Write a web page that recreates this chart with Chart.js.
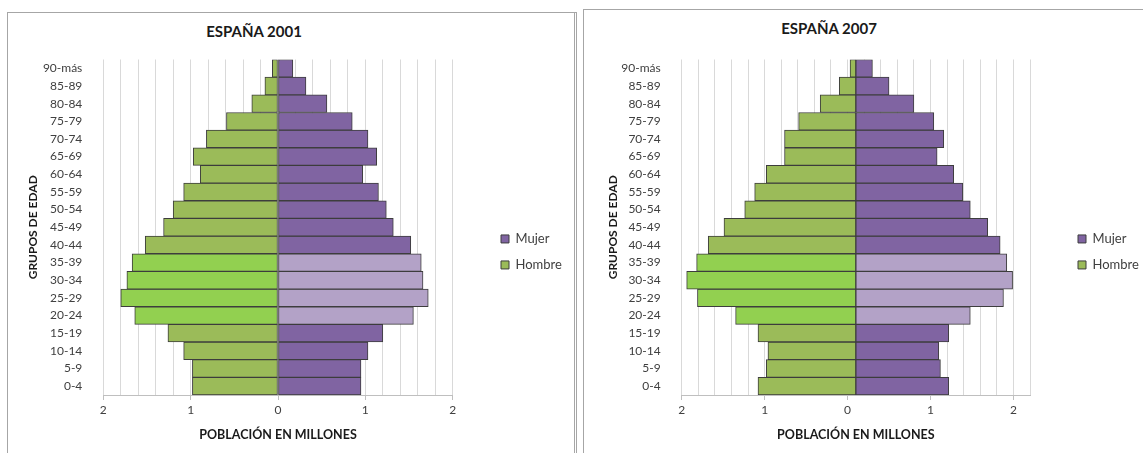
<!DOCTYPE html>
<html lang="es">
<head>
<meta charset="utf-8">
<title>Pirámides de población. España 2001 y 2007</title>
<script src="https://cdn.jsdelivr.net/npm/chart.js@4/dist/chart.umd.min.js"></script>
<style>
  html, body { margin: 0; padding: 0; background: #fff; }
  #page { position: relative; width: 1143px; height: 453px; overflow: hidden; font-family: Lato, "Open Sans", sans-serif; }
  .panel { position: absolute; box-sizing: border-box; border: 1px solid #a6a6a6; }
  #panel2001 { left: 7px; top: 12px; width: 570px; height: 470px; border-right: 3px double #a6a6a6; }
  #panel2007 { left: 583px; top: 9px; width: 600px; height: 470px; }
  .titulo { position: absolute; width: 240px; text-align: center; font-weight: bold; font-size: 15px; line-height: 18px; color: #1a1a1a; }
  #titulo2001 { left: 134px; top: 22px; }
  #titulo2007 { left: 709px; top: 19px; }
  canvas { position: absolute; top: 0; }
  #c2001 { left: 0; }
  #c2007 { left: 575px; }
</style>
</head>
<body>
<div id="page">
  <div class="panel" id="panel2001"></div>
  <div class="panel" id="panel2007"></div>
  <div class="titulo" id="titulo2001">ESPAÑA 2001</div>
  <div class="titulo" id="titulo2007">ESPAÑA 2007</div>
  <canvas id="c2001" width="575" height="453"></canvas>
  <canvas id="c2007" width="568" height="453"></canvas>
</div>
<script>
// grupos de edad, de abajo (0-4) hacia arriba (90-más)
const grupos = ["0-4", "5-9", "10-14", "15-19", "20-24", "25-29", "30-34", "35-39", "40-44",
  "45-49", "50-54", "55-59", "60-64", "65-69", "70-74", "75-79", "80-84", "85-89", "90-más"];

// grupos resaltados con color claro
const resaltados = ["20-24", "25-29", "30-34", "35-39"];

// población en millones
const hombres2001 = [0.98, 0.98, 1.08, 1.26, 1.64, 1.80, 1.73, 1.67, 1.52, 1.31, 1.20, 1.08, 0.89, 0.97, 0.82, 0.59, 0.30, 0.15, 0.065];
const mujeres2001 = [0.95, 0.95, 1.03, 1.20, 1.55, 1.72, 1.66, 1.64, 1.52, 1.32, 1.24, 1.15, 0.97, 1.13, 1.03, 0.85, 0.56, 0.32, 0.17];

const hombres2007 = [1.18, 1.08, 1.06, 1.18, 1.45, 1.91, 2.04, 1.92, 1.78, 1.59, 1.34, 1.22, 1.08, 0.86, 0.86, 0.69, 0.43, 0.20, 0.07];
const mujeres2007 = [1.12, 1.02, 1.00, 1.12, 1.38, 1.78, 1.89, 1.82, 1.74, 1.59, 1.38, 1.29, 1.18, 0.98, 1.06, 0.94, 0.70, 0.40, 0.20];

const FONT = "Lato, 'Open Sans', sans-serif";
const MUJER = "#8064a2", MUJER_CLARO = "#b3a2c7";
const HOMBRE = "#9bbb59", HOMBRE_CLARO = "#92d050";
const LEYENDA_FONT = 13, LEYENDA_CAJA = 8, LEYENDA_PAD = 13;

function colorPorGrupo(normal, claro) {
  return ctx => (ctx.dataIndex !== undefined && resaltados.includes(grupos[ctx.dataIndex])) ? claro : normal;
}

function esEntero(v) {
  return Number.isInteger(Math.round(v * 10) / 10);
}

// ancho que Chart.js da a la leyenda vertical (padding + caja + medio font + texto + 10)
function anchoLeyenda() {
  const ctx = document.createElement("canvas").getContext("2d");
  ctx.font = LEYENDA_FONT + "px " + FONT;
  const texto = Math.max(ctx.measureText("Mujer").width, ctx.measureText("Hombre").width);
  return LEYENDA_PAD + LEYENDA_CAJA + LEYENDA_FONT / 2 + texto + 10;
}

function piramide(id, cfg) {
  const canvas = document.getElementById(id);
  const padRight = canvas.width - cfg.leyendaX - anchoLeyenda();

  return new Chart(canvas, {
    type: "bar",
    data: {
      labels: grupos,
      datasets: [
        {
          label: "Mujer",
          data: cfg.mujeres.map(v => [cfg.base, cfg.base + v]),
          backgroundColor: colorPorGrupo(MUJER, MUJER_CLARO)
        },
        {
          label: "Hombre",
          data: cfg.hombres.map(v => [cfg.base, cfg.base - v]),
          backgroundColor: colorPorGrupo(HOMBRE, HOMBRE_CLARO)
        }
      ]
    },
    options: {
      indexAxis: "y",
      responsive: false,
      animation: false,
      layout: { padding: { left: cfg.padLeft, right: padRight, top: 59.5, bottom: 11 } },
      datasets: {
        bar: {
          grouped: false,
          barPercentage: 1,
          categoryPercentage: 1,
          borderWidth: 1,
          borderColor: "#3d3d3d",
          borderSkipped: false
        }
      },
      scales: {
        x: {
          min: -2,
          max: cfg.xMax,
          ticks: {
            stepSize: 0.2,
            autoSkip: false,
            maxRotation: 0,
            padding: 3,
            color: "#404040",
            font: { family: FONT, size: 12 },
            callback: v => esEntero(v) ? Math.abs(Math.round(v)) : ""
          },
          grid: {
            color: "#d9d9d9",
            tickLength: 5,
            tickColor: ctx => (ctx.tick && esEntero(ctx.tick.value)) ? "#bfbfbf" : "rgba(0,0,0,0)"
          },
          border: { color: "#bfbfbf" },
          title: {
            display: true,
            text: "POBLACIÓN EN MILLONES",
            color: "#1a1a1a",
            font: { family: FONT, size: 12.5, weight: "bold" },
            padding: 0
          },
          afterFit: s => { s.height = 47; }
        },
        y: {
          reverse: true,
          grid: { display: false },
          border: { display: false },
          ticks: { padding: 13, color: "#404040", font: { family: FONT, size: 12 } },
          title: {
            display: true,
            text: "GRUPOS DE EDAD",
            color: "#1a1a1a",
            font: { family: FONT, size: 12, weight: "bold" },
            padding: 0
          },
          afterFit: s => { s.width = cfg.yWidth; }
        },
        // hueco entre el área del gráfico y la leyenda
        hueco: {
          type: "category",
          position: "right",
          grid: { display: false },
          border: { display: false },
          ticks: { display: false },
          afterFit: s => { s.width = cfg.leyendaX - cfg.areaDerecha; }
        }
      },
      plugins: {
        title: { display: false },
        tooltip: { enabled: false },
        legend: {
          position: "right",
          fullSize: false,
          title: { display: true, text: "", padding: { top: 35, bottom: 0 } },
          labels: {
            boxWidth: LEYENDA_CAJA,
            boxHeight: LEYENDA_CAJA,
            padding: LEYENDA_PAD,
            color: "#404040",
            font: { family: FONT, size: LEYENDA_FONT }
          }
        }
      }
    }
  });
}

piramide("c2001", {
  hombres: hombres2001, mujeres: mujeres2001,
  base: 0, xMax: 2,
  padLeft: 26.4, yWidth: 76.9, areaDerecha: 452.7, leyendaX: 488
});

piramide("c2007", {
  hombres: hombres2007, mujeres: mujeres2007,
  base: 0.1, xMax: 2.2,
  padLeft: 31.4, yWidth: 75.3, areaDerecha: 455, leyendaX: 490
});
</script>
</body>
</html>
